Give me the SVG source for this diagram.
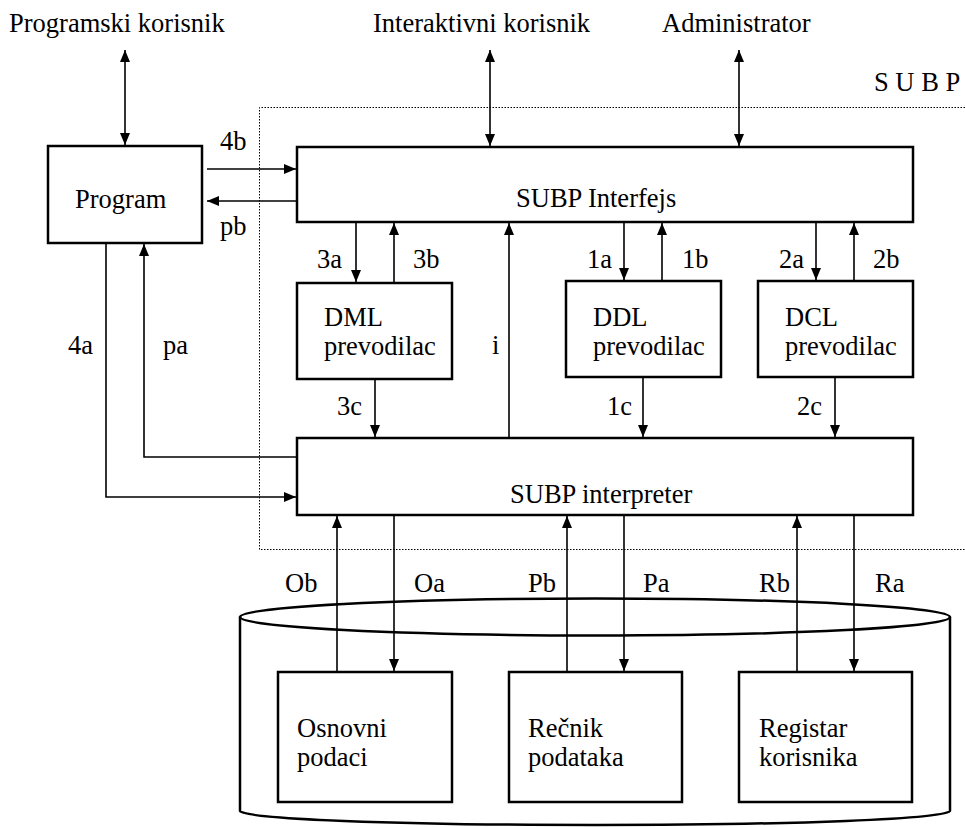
<svg xmlns="http://www.w3.org/2000/svg" width="965" height="827" viewBox="0 0 965 827">
  <style>
    text { font-family: 'Liberation Serif', 'Times New Roman', serif; font-size: 26.5px; fill: #000; }
    .box { fill: #fff; stroke: #000; stroke-width: 2.5; }
    .wire { fill: none; stroke: #000; stroke-width: 1.6; }
    .bound { fill: none; stroke: #000; stroke-width: 1; stroke-dasharray: 1.5 1.5; }
    .drum { fill: none; stroke: #000; stroke-width: 2.5; }
  </style>
  <defs>
    <marker id="head" markerUnits="userSpaceOnUse" markerWidth="13" markerHeight="11" refX="12" refY="5" orient="auto">
      <path d="M0,0 L12,5 L0,10 z" fill="#000"/>
    </marker>
    <marker id="tail" markerUnits="userSpaceOnUse" markerWidth="13" markerHeight="11" refX="0" refY="5" orient="auto">
      <path d="M12,0 L0,5 L12,10 z" fill="#000"/>
    </marker>
  </defs>
  <rect width="965" height="827" fill="#fff"/>

  <!-- system boundary -->
  <g id="subp-boundary">
    <path class="bound" d="M965,107.5 H259.5 V549.5 H965"/>
    <text x="874" y="91">S U B P</text>
  </g>

  <!-- database drum -->
  <g id="baza">
    <path class="drum" d="M240,617 V811 A355,14 0 0 0 950,811 V617"/>
    <ellipse class="drum" cx="595" cy="617" rx="355" ry="18.5"/>
  </g>

  <!-- actors -->
  <g id="programski-korisnik"><text x="9" y="32">Programski korisnik</text></g>
  <g id="interaktivni-korisnik"><text x="373" y="32">Interaktivni korisnik</text></g>
  <g id="administrator"><text x="662" y="32">Administrator</text></g>

  <!-- nodes -->
  <g id="program">
    <rect class="box" x="48" y="146" width="154" height="97"/>
    <text x="75" y="208">Program</text>
  </g>
  <g id="subp-interfejs">
    <rect class="box" x="297" y="147" width="616" height="75"/>
    <text x="516" y="207">SUBP Interfejs</text>
  </g>
  <g id="dml">
    <rect class="box" x="297" y="283" width="155" height="96"/>
    <text x="324" y="326">DML</text>
    <text x="324" y="355">prevodilac</text>
  </g>
  <g id="ddl">
    <rect class="box" x="566" y="281" width="155" height="96"/>
    <text x="593" y="326">DDL</text>
    <text x="593" y="355">prevodilac</text>
  </g>
  <g id="dcl">
    <rect class="box" x="758" y="281" width="155" height="96"/>
    <text x="785" y="326">DCL</text>
    <text x="785" y="355">prevodilac</text>
  </g>
  <g id="subp-interpreter">
    <rect class="box" x="297" y="438" width="616" height="77"/>
    <text x="510" y="503">SUBP interpreter</text>
  </g>
  <g id="osnovni-podaci">
    <rect class="box" x="278" y="672" width="174" height="130"/>
    <text x="297" y="737">Osnovni</text>
    <text x="297" y="766">podaci</text>
  </g>
  <g id="recnik-podataka">
    <rect class="box" x="509" y="672" width="173" height="130"/>
    <text x="528" y="737">Rečnik</text>
    <text x="528" y="766">podataka</text>
  </g>
  <g id="registar-korisnika">
    <rect class="box" x="739" y="672" width="173" height="130"/>
    <text x="759" y="737">Registar</text>
    <text x="759" y="766">korisnika</text>
  </g>

  <!-- connectors -->
  <g id="connectors">
    <line class="wire" x1="125" y1="50" x2="125" y2="145" marker-start="url(#tail)" marker-end="url(#head)"/>
    <line class="wire" x1="490" y1="50" x2="490" y2="146" marker-start="url(#tail)" marker-end="url(#head)"/>
    <line class="wire" x1="739" y1="50" x2="739" y2="146" marker-start="url(#tail)" marker-end="url(#head)"/>

    <line class="wire" x1="207" y1="169" x2="296" y2="169" marker-end="url(#head)"/>
    <line class="wire" x1="296" y1="201" x2="207" y2="201" marker-end="url(#head)"/>

    <line class="wire" x1="356" y1="223" x2="356" y2="282" marker-end="url(#head)"/>
    <line class="wire" x1="394" y1="283" x2="394" y2="223" marker-end="url(#head)"/>
    <line class="wire" x1="509" y1="438" x2="509" y2="223" marker-end="url(#head)"/>
    <line class="wire" x1="624" y1="223" x2="624" y2="280" marker-end="url(#head)"/>
    <line class="wire" x1="662" y1="281" x2="662" y2="223" marker-end="url(#head)"/>
    <line class="wire" x1="816" y1="223" x2="816" y2="280" marker-end="url(#head)"/>
    <line class="wire" x1="854" y1="281" x2="854" y2="223" marker-end="url(#head)"/>

    <line class="wire" x1="375" y1="380" x2="375" y2="437" marker-end="url(#head)"/>
    <line class="wire" x1="643" y1="378" x2="643" y2="437" marker-end="url(#head)"/>
    <line class="wire" x1="835" y1="378" x2="835" y2="437" marker-end="url(#head)"/>

    <path class="wire" d="M297,457 H144 V244" marker-end="url(#head)"/>
    <path class="wire" d="M106,244 V497 H296" marker-end="url(#head)"/>

    <line class="wire" x1="337" y1="672" x2="337" y2="516" marker-end="url(#head)"/>
    <line class="wire" x1="394" y1="516" x2="394" y2="671" marker-end="url(#head)"/>
    <line class="wire" x1="567" y1="672" x2="567" y2="516" marker-end="url(#head)"/>
    <line class="wire" x1="624" y1="516" x2="624" y2="671" marker-end="url(#head)"/>
    <line class="wire" x1="797" y1="672" x2="797" y2="516" marker-end="url(#head)"/>
    <line class="wire" x1="854" y1="516" x2="854" y2="671" marker-end="url(#head)"/>

    <text x="220" y="150">4b</text>
    <text x="220" y="235">pb</text>
    <text x="317" y="268">3a</text>
    <text x="413" y="268">3b</text>
    <text x="587" y="268">1a</text>
    <text x="682" y="268">1b</text>
    <text x="779" y="268">2a</text>
    <text x="873" y="268">2b</text>
    <text x="68" y="354">4a</text>
    <text x="163" y="354">pa</text>
    <text x="492" y="354">i</text>
    <text x="337" y="415">3c</text>
    <text x="607" y="415">1c</text>
    <text x="797" y="415">2c</text>
    <text x="285" y="592">Ob</text>
    <text x="414" y="592">Oa</text>
    <text x="528" y="592">Pb</text>
    <text x="643" y="592">Pa</text>
    <text x="759" y="592">Rb</text>
    <text x="875" y="592">Ra</text>
  </g>
</svg>
